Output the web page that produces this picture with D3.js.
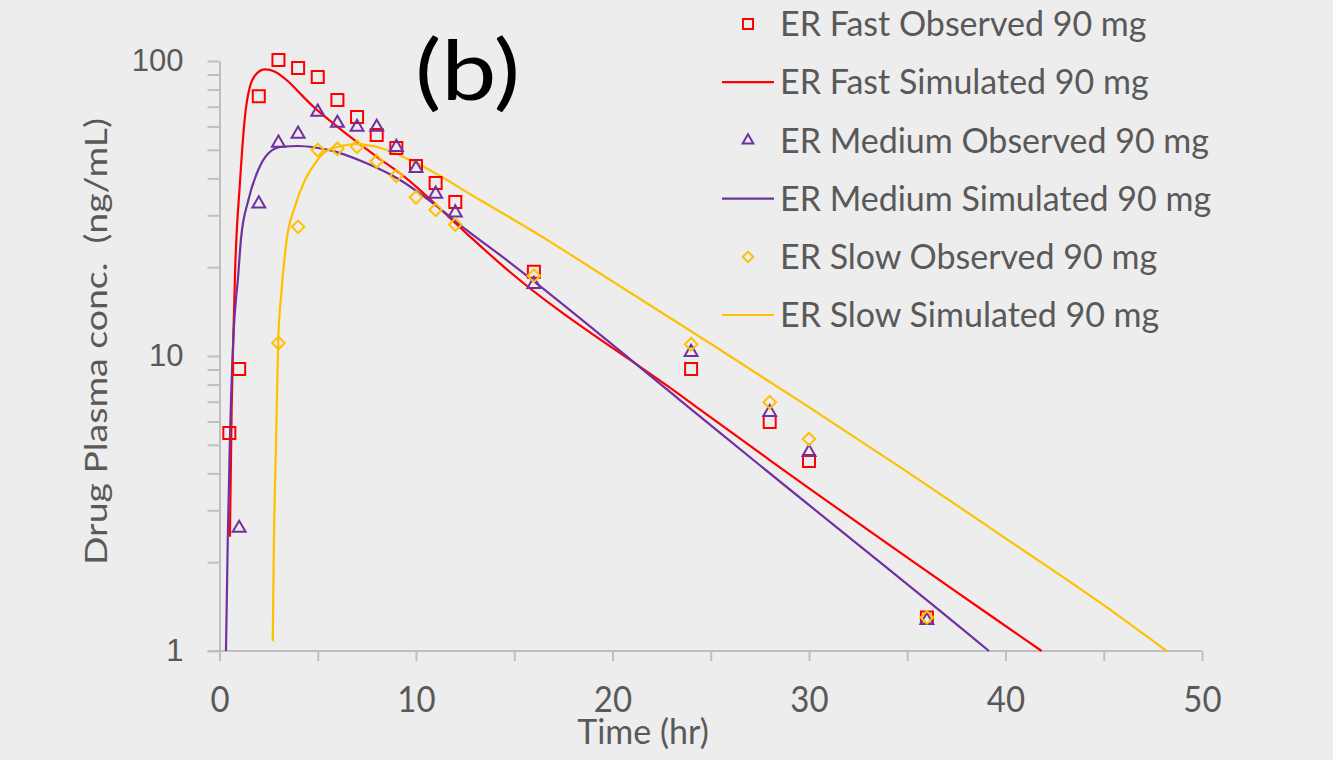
<!DOCTYPE html>
<html>
<head>
<meta charset="utf-8">
<script src="https://cdn.jsdelivr.net/npm/d3@7"></script>
<style>
  body { margin: 0; background: #ededed; }
  svg { display: block; }
  .axis path, .axis line { stroke: #bfbfbf; stroke-width: 2; }
  .axis text { fill: #595959; }
</style>
</head>
<body>
<svg width="1333" height="760"></svg>
<script>
// observed data [time (hr), conc (ng/mL)]
var fastObs = [[0.5,5.48],[1,9.03],[2,76],[3,100.7],[4,94.7],[5,88.3],[6,73.8],[7,64.6],[8,56.1],[9,50.7],[10,44.1],[11,38.6],[12,33.3],[16,19.3],[24,9.03],[28,5.97],[30,4.41],[36,1.30]];
var mediumObs = [[1,2.61],[2,32.8],[3,52.7],[4,56.6],[5,67.2],[6,61.6],[7,59.7],[8,59.7],[9,51],[10,43.3],[11,35.4],[12,30.6],[16,17.5],[24,10.3],[28,6.44],[30,4.72],[36,1.27]];
var slowObs = [[3,11.07],[4,27.4],[5,49.9],[6,50.4],[7,51.2],[8,45.7],[9,40.8],[10,34.5],[11,31.3],[12,27.9],[16,18.7],[24,10.96],[28,6.97],[30,5.23],[36,1.30]];

// simulated curves
var fastSim = [[0.53,2.44],[0.62,6.72],[0.70,11.3],[0.79,19.07],[1.04,38.6],[1.3,65.2],[1.55,81.9],[1.89,90.6],[2.32,93.6],[2.82,92.0],[3.5,85.2],[4.18,76.6],[4.86,69.2],[5.71,62.1],[6.64,55.4],[8.17,46.5],[9.19,41.6],[12.58,26.0],[14.27,20.6],[23.43,7.38],[28.0,4.44],[38.7,1.396],[41.84,1.0]];
var mediumSim = [[0.33,1.0],[0.42,2.38],[0.53,5.19],[0.70,11.3],[0.96,19.07],[1.09,24.8],[1.47,33.8],[1.97,42.7],[2.48,48.6],[3.16,51.2],[4.01,51.5],[4.86,50.9],[5.71,49.7],[7.49,45.0],[9.19,39.5],[10.88,32.9],[12.58,26.7],[14.27,22.0],[23.43,7.09],[27.17,4.44],[38.7,1.06],[39.16,1.0]];
var slowSim = [[2.71,1.08],[2.77,2.38],[2.88,5.19],[2.99,11.3],[3.16,16.7],[3.42,24.8],[3.84,32.1],[4.35,39.5],[4.86,45.0],[5.54,49.9],[6.98,52.3],[8.17,50.8],[9.86,45.6],[13.26,33.8],[16.65,24.8],[20,17.9],[25,11.0],[30,6.71],[35,4.05],[40,2.41],[45,1.43],[48.2,1.0]];

var xTicks = [0,5,10,15,20,25,30,35,40,45,50];
var yTicks = [1,2,3,4,5,6,7,8,9,10,20,30,40,50,60,70,80,90,100];
var yLabels = [1,10,100];

var legendNames = ["ER Fast Observed 90 mg","ER Fast Simulated 90 mg","ER Medium Observed 90 mg","ER Medium Simulated 90 mg","ER Slow Observed 90 mg","ER Slow Simulated 90 mg"];

var svg = d3.select("svg");
var font = "Lato, 'Open Sans', sans-serif";

var x = d3.scaleLinear().domain([0, 50]).range([219.5, 1202]);
var y = d3.scaleLog().domain([1, 100]).range([651, 61]);

// axes
var xAxis = svg.append("g").attr("class", "axis")
    .attr("transform", "translate(0,651)")
    .call(d3.axisBottom(x).tickValues(xTicks).tickSize(10).tickSizeOuter(0)
        .tickFormat(function(d) { return d % 10 === 0 ? d : ""; }));
// slightly tall digits, as in the original
xAxis.selectAll("text")
    .style("font-family", font).style("font-size", "33px")
    .attr("dy", 0)
    .attr("y", 61 / 1.1)
    .attr("transform", "scale(1,1.1)");
xAxis.select(".domain").attr("d", "M207.5,0H1202");

var yAxis = svg.append("g").attr("class", "axis")
    .attr("transform", "translate(219.5,0)")
    .call(d3.axisLeft(y).tickValues(yTicks).tickSize(12).tickSizeOuter(0).tickPadding(24)
        .tickFormat(function(d) { return yLabels.indexOf(d) >= 0 ? d : ""; }));
yAxis.selectAll("text").style("font-family", "'Liberation Sans', Arial, sans-serif").style("font-size", "31px");

// curves
var line = d3.line()
    .x(function(d) { return x(d[0]); })
    .y(function(d) { return y(d[1]); })
    .curve(d3.curveMonotoneX);

var series = [
  {sim: fastSim, obs: fastObs, color: "#ff0000", sym: "square"},
  {sim: mediumSim, obs: mediumObs, color: "#7030a0", sym: "triangle"},
  {sim: slowSim, obs: slowObs, color: "#ffc000", sym: "diamond"}
];

function symbolPath(sym, s) {
  if (sym == "square") return d3.symbol().type(d3.symbolSquare).size(s * s)();
  if (sym == "diamond") return d3.symbol().type(d3.symbolSquare).size(s * s * 0.55)();
  return d3.symbol().type(d3.symbolTriangle).size(s * s * 0.5)();
}

series.forEach(function(s) {
  svg.append("path")
    .datum(s.sim)
    .attr("fill", "none")
    .attr("stroke", s.color)
    .attr("stroke-width", 2.2)
    .attr("d", line);
});

series.forEach(function(s) {
  svg.append("g").selectAll("path")
    .data(s.obs)
    .enter().append("path")
    .attr("d", symbolPath(s.sym, 12))
    .attr("transform", function(d) {
      return "translate(" + x(d[0]) + "," + y(d[1]) + ")" + (s.sym == "diamond" ? " rotate(45)" : "");
    })
    .attr("fill", "none")
    .attr("stroke", s.color)
    .attr("stroke-width", 2);
});

// legend
var legend = svg.append("g");
legendNames.forEach(function(name, i) {
  var s = series[Math.floor(i / 2)];
  var cy = 24 + i * 58.2;
  if (i % 2 == 0) {
    legend.append("path")
      .attr("d", symbolPath(s.sym, 10))
      .attr("transform", "translate(748," + cy + ")" + (s.sym == "diamond" ? " rotate(45)" : ""))
      .attr("fill", "none").attr("stroke", s.color).attr("stroke-width", 2);
  } else {
    legend.append("line")
      .attr("x1", 722).attr("x2", 774).attr("y1", cy).attr("y2", cy)
      .attr("stroke", s.color).attr("stroke-width", 2.2);
  }
  legend.append("text")
    .attr("x", 780).attr("y", cy)
    .attr("dy", "0.36em")
    .style("font-family", font).style("font-size", "34px")
    .attr("fill", "#595959")
    .text(name);
});

// axis titles
svg.append("text")
  .attr("transform", "translate(107,341.5) rotate(-90)")
  .attr("text-anchor", "middle")
  .style("font-family", font).style("font-size", "31px")
  .style("white-space", "pre")
  .attr("textLength", 447)
  .attr("lengthAdjust", "spacingAndGlyphs")
  .attr("fill", "#595959")
  .text("Drug Plasma conc.  (ng/mL)");

svg.append("text")
  .attr("x", 643).attr("y", 744)
  .attr("text-anchor", "middle")
  .style("font-family", font).style("font-size", "34px")
  .attr("fill", "#595959")
  .text("Time (hr)");

// panel label
svg.append("text")
  .attr("x", 415).attr("y", 100)
  .style("font-family", font).style("font-size", "84px")
  .attr("textLength", 105)
  .attr("lengthAdjust", "spacingAndGlyphs")
  .attr("fill", "#000")
  .text("(b)");
</script>
</body>
</html>
